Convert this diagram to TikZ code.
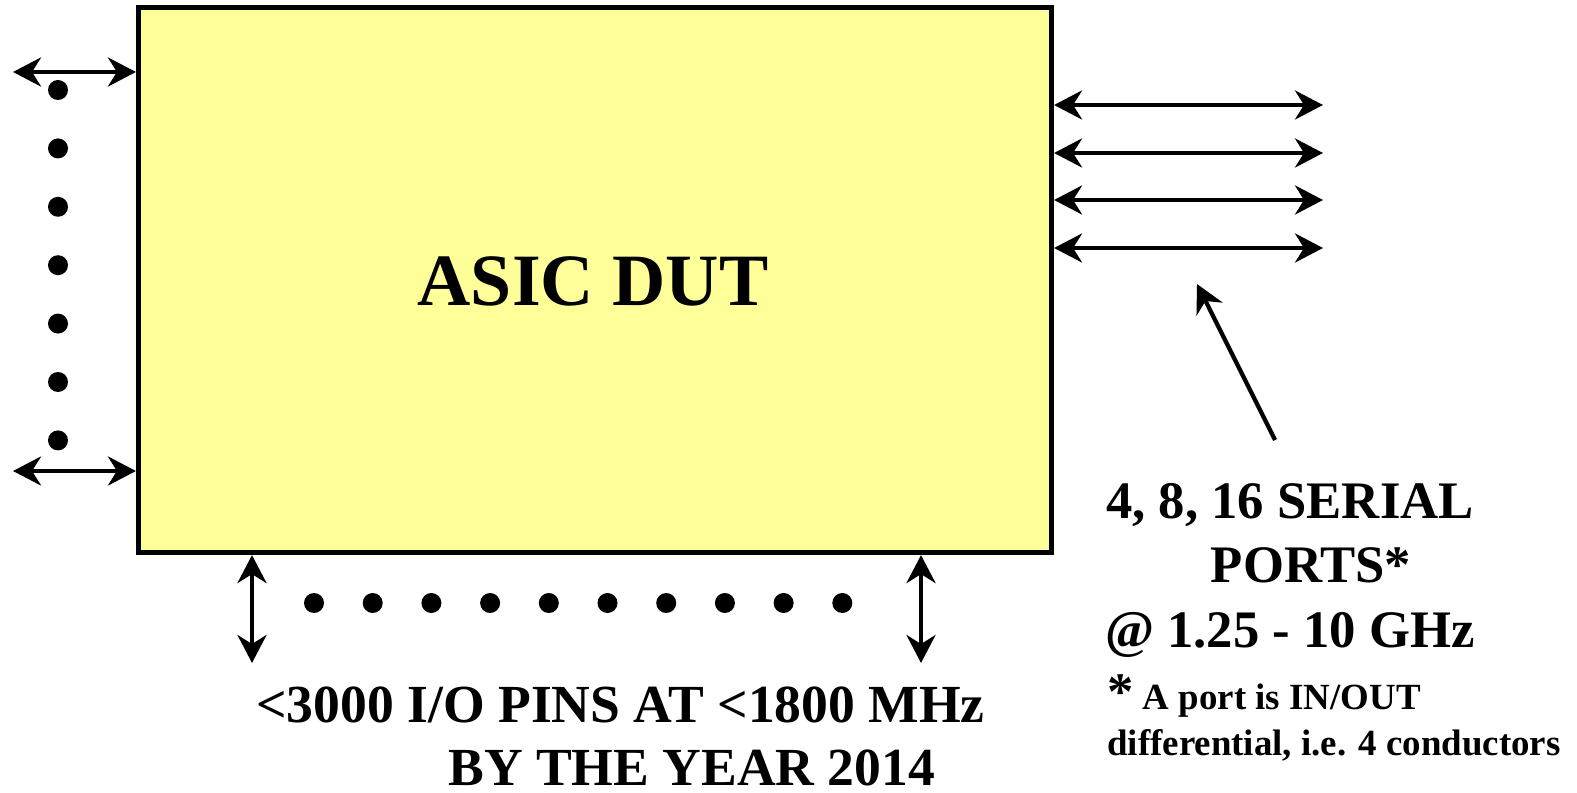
\documentclass[tikz,border=0pt]{standalone}
\usepackage{fontspec}
\setmainfont{Liberation Serif}
\usepackage{tikz}
\usetikzlibrary{arrows.meta, positioning}
\definecolor{dutyellow}{RGB}{255,255,153}
\tikzset{
  dutbox/.style={rectangle, draw=black, line width=3pt, fill=dutyellow, minimum width=18.26cm, minimum height=10.9cm},
  pin/.style={circle, fill=black, inner sep=0pt, minimum size=0.4cm},
  arrow/.style={line width=2.4pt, {Stealth[length=5.6mm, width=5.8mm, inset=1.8mm]}-{Stealth[length=5.6mm, width=5.8mm, inset=1.8mm]}},
  pointer/.style={line width=2.4pt, -{Stealth[length=5.6mm, width=5.8mm, inset=1.8mm]}},
  titletext/.style={font=\fontsize{42}{48}\selectfont\bfseries, inner sep=0pt},
  bigtext/.style={font=\fontsize{30}{36.7}\selectfont\bfseries, inner sep=0pt},
  pinstext/.style={font=\fontsize{30.5}{35.8}\selectfont\bfseries, inner sep=0pt},
  smalltext/.style={font=\fontsize{21}{26}\selectfont\bfseries, inner sep=0pt}
}
\begin{document}
\begin{tikzpicture}[x=0.02cm, y=-0.02cm]
    \useasboundingbox (0,0) rectangle (1577,793);
    \node (dut) [dutbox] at (595,280) {};
    \node (dutlabel) [titletext, anchor=base] at (593,306) {ASIC DUT};

    % parallel pins on the left side
    \foreach \i in {0,...,6}
        \node (lpin\i) [pin] at (58,{90+58.4*\i}) {};
    \coordinate (l1) at (13,72);
    \coordinate (l2) at (13,471);
    \draw [arrow] (l1) -- (l1 -| dut.west);
    \draw [arrow] (l2) -- (l2 -| dut.west);

    % parallel pins below
    \foreach \i in {0,...,9}
        \node (bpin\i) [pin] at ({314+58.7*\i},603) {};
    \coordinate (b1) at (252,663);
    \coordinate (b2) at (921,663);
    \draw [arrow] (b1 |- dut.south) -- (b1);
    \draw [arrow] (b2 |- dut.south) -- (b2);

    % serial ports on the right side
    \foreach \y [count=\k] in {105,153,200,248} {
        \coordinate (r\k) at (1323,\y);
        \draw [arrow] (r\k -| dut.east) -- (r\k);
    }

    \node (ports) [bigtext, align=center, anchor=base] at (1290,647) {4, 8, 16 SERIAL\\ \hspace*{0.84cm}PORTS*\\ @ 1.25 - 10 GHz};
    \coordinate (ptail) at (1275,440);
    \coordinate (ptip) at (1197,284);
    \draw [pointer] (ptail) -- (ptip);

    \node (footnote) [smalltext, align=left, anchor=base west] at (1107,755) {{\fontsize{30}{26}\selectfont *} A port is IN/OUT\\ differential, i.e. 4 conductors};

    \node (pins) [pinstext, align=left, anchor=base west] at (256,785) {<3000 I/O PINS AT <1800 MHz\\ \hspace*{3.84cm}BY THE YEAR 2014};
\end{tikzpicture}
\end{document}
